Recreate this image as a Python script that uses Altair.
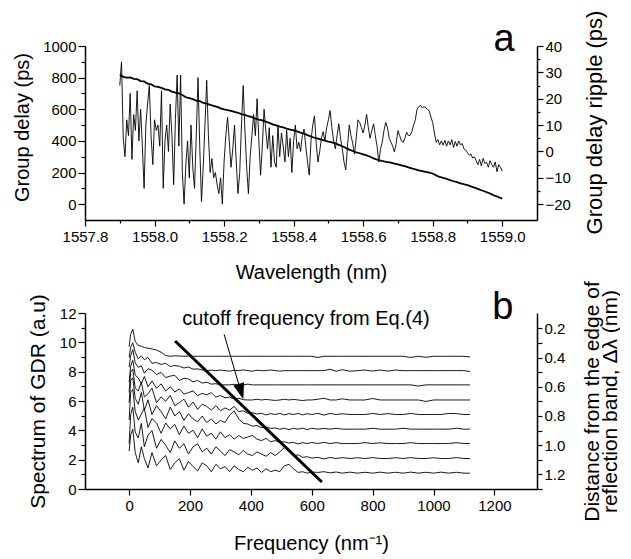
import altair as alt
import pandas as pd

FONT = "Liberation Sans"

# ---------------- panel a ----------------
# group delay sampled every 0.01 nm from 1557.90 to 1559.00
gd_start, gd_step = 1557.90, 0.01
gd_delay = [
    820, 805, 800, 802, 792, 790, 778, 776, 762, 758,
    745, 742, 735, 726, 722, 712, 705, 700, 690, 676,
    670, 664, 655, 652, 640, 635, 628, 622, 615, 606,
    600, 595, 590, 583, 578, 570, 565, 556, 550, 541,
    535, 530, 522, 514, 505, 498, 490, 485, 478, 472,
    466, 460, 452, 446, 437, 428, 420, 414, 408, 402,
    395, 390, 384, 375, 366, 356, 345, 336, 328, 322,
    315, 308, 300, 290, 282, 276, 270, 266, 262, 256,
    252, 246, 240, 233, 226, 220, 214, 209, 204, 199,
    194, 182, 172, 166, 160, 152, 145, 139, 132, 126,
    120, 112, 105, 97, 88, 80, 72, 62, 52, 44,
    35,
]
# group delay ripple sampled every 0.005 nm from 1557.900 to 1559.000
rip_start, rip_step = 1557.900, 0.005
ripple = [
    25, 34, 5, -2, 12, 6, 22, -3, 14, 8,
    23, 4, 16, 2, -14, 10, 18, 25, 6, -5,
    12, 8, 10, 2, 23, -14, 4, 10, 0, 18,
    6, -12.6, 12, 29, 2, 29, -8, -20, -5, 4,
    -10, 10, -6, -14, 6, 28, 2, -19, -6, 10,
    27, 6, -8, -2.7, -10, -8, -12.6, -16, -10, -20,
    -4, 6, 13, 4, -6, 1, 10, -4, -16, -8,
    10, 25, 8, -6, -16, -2, 6, 14, 6, 20,
    4, -9, 2, 16, 8, 1, 9, -6, 6, -4,
    -6, 10, -2, 7, 2, -4, 8, -2, 5, -8,
    4, 10, 1, 3.5, 0, 6, 8.5, 2, -4, -9,
    4, 10, 13.5, 3, -4, 0, 5, 7.5, 4, 9,
    12, 15.5, 9, 4, 1, 6, 10.5, 5, 1, -4,
    -7, 2, 10, 6, 3, -1, 5, 12, 11, 9,
    7, 10, 14, 9, 5, 8, 10.5, 6, 2, -4,
    1, 3.5, 8, 11, 9, 5, 3.5, 2, -0.2, 3,
    7.9, 6, 4, 3.5, 5, 7.3, 6, 6.1, 7.5, 10,
    12, 16, 17, 17.4, 16.5, 17, 16.6, 16, 15.4, 13,
    11, 7, 3.5, 4.5, 2.5, 4, 2.4, 4.2, 2, 4,
    2.5, 4.5, 1.5, 3.8, 2, 4, 2.5, 3, 1, 0.5,
    -0.5, -1.4, -1, -2.5, -2, -3.5, -5, -3, -5.5, -2.6,
    -4.5, -4.2, -6, -3.5, -5, -6, -4, -7.7, -5, -6,
    -7.5,
]
wl_ticks = [1557.8, 1557.9, 1558.0, 1558.1, 1558.2, 1558.3, 1558.4,
            1558.5, 1558.6, 1558.7, 1558.8, 1558.9, 1559.0]
gd_ticks = [0, 100, 200, 300, 400, 500, 600, 700, 800, 900, 1000]
rip_ticks = [-20, -15, -10, -5, 0, 5, 10, 15, 20, 25, 30, 35, 40]

# ---------------- panel b ----------------
freq = [0, 5, 12, 20, 30, 40, 50, 62, 75, 90,
        105, 120, 135, 150, 165, 180, 195, 210, 225, 240,
        255, 270, 285, 300, 315, 330, 345, 360, 375, 390,
        405, 420, 435, 450, 465, 480, 495, 510, 525, 540,
        555, 570, 585, 600, 620, 640, 660, 680, 700, 725,
        750, 775, 800, 825, 850, 875, 900, 925, 950, 975,
        1000, 1025, 1050, 1075, 1100, 1120]
curve_offset = [9.05, 8.07, 7.1, 6.07, 5.08, 4.08, 3.1, 2.08, 1.08]
spectra = [
    [0.65, 1.5, 1.85, 1.0, 0.75, 0.68, 0.6, 0.55, 0.5, 0.42,
     0.28, 0.05, 0.0, 0.03, 0.02, 0.0, 0.02, 0.0, 0.0, 0.0,
     0.0, 0.0, 0.0, 0.0, 0.0, 0.0, 0.0, 0.0, 0.0, 0.0,
     0.0, 0.0, 0.0, 0.0, 0.0, 0.0, 0.0, 0.0, 0.0, 0.0,
     0.0, 0.0, 0.0, 0.0, -0.08, 0.0, 0.0, 0.0, 0.0, 0.0,
     0.0, 0.0, 0.0, 0.0, 0.0, 0.0, 0.0, -0.08, 0.0, -0.07,
     0.0, 0.0, 0.0, 0.0, 0.0, -0.05],
    [0.9, 1.6, 1.9, 1.25, 0.8, 1.0, 0.75, 0.9, 0.5, 0.55,
     0.42, 0.5, 0.28, 0.35, 0.3, 0.18, 0.25, 0.1, 0.12, 0.05,
     0.0, 0.03, 0.0, 0.04, 0.0, -0.04, 0.03, 0.0, 0.05, 0.0,
     -0.04, 0.03, 0.0, 0.0, 0.05, 0.0, -0.03, 0.0, 0.0, 0.0,
     0.0, 0.0, 0.0, 0.0, 0.0, 0.0, 0.1, -0.04, 0.07, -0.04,
     0.0, 0.04, -0.03, 0.04, -0.03, 0.04, 0.0, 0.0, 0.0, 0.0,
     0.0, 0.0, 0.0, 0.0, 0.0, -0.06],
    [1.2, 2.0, 2.4, 1.5, 1.2, 1.3, 0.8, 1.1, 1.0, 0.7,
     0.85, 0.5, 0.6, 0.65, 0.3, 0.45, 0.4, 0.2, 0.3, 0.12,
     0.18, 0.05, 0.08, 0.0, 0.0, 0.0, 0.04, -0.03, 0.0, 0.05,
     0.0, 0.0, 0.0, 0.0, 0.0, 0.0, 0.0, 0.0, 0.0, 0.0,
     0.0, 0.0, 0.0, 0.0, 0.0, 0.0, 0.0, 0.0, 0.0, 0.0,
     0.0, 0.0, 0.0, 0.0, 0.0, 0.0, 0.0, 0.0, -0.08, 0.0,
     0.0, 0.0, 0.0, 0.0, 0.0, 0.0],
    [1.2, 2.3, 2.7, 1.7, 1.5, 1.1, 1.6, 0.9, 1.3, 0.8,
     1.1, 0.6, 0.9, 0.55, 0.75, 0.4, 0.5, 0.62, 0.3, 0.45,
     0.35, 0.5, 0.2, 0.3, 0.15, 0.2, 0.06, 0.12, 0.02, 0.0,
     0.0, 0.05, 0.0, 0.04, 0.0, -0.03, 0.0, 0.05, 0.0, 0.04,
     0.0, -0.04, 0.0, 0.0, 0.05, 0.12, 0.0, 0.0, 0.08, 0.0,
     0.0, 0.0, 0.1, 0.0, 0.0, 0.0, 0.0, 0.0, 0.0, -0.1,
     0.0, 0.0, 0.0, 0.0, 0.0, 0.0],
    [1.5, 2.9, 3.1, 1.8, 1.6, 2.2, 1.2, 1.4, 1.8, 0.8,
     1.2, 0.9, 1.3, 0.6, 0.8, 1.05, 0.5, 0.85, 0.35, 0.7,
     0.55, 0.3, 0.6, 0.25, 0.45, 0.3, 0.55, 0.2, 0.25, 0.08,
     0.12, 0.03, 0.08, -0.03, 0.06, 0.0, 0.07, -0.03, 0.06, 0.0,
     0.07, -0.03, 0.06, 0.0, 0.08, -0.04, 0.07, 0.0, 0.05, 0.0,
     0.0, 0.0, 0.07, 0.0, 0.06, 0.0, 0.0, 0.07, 0.0, 0.0,
     0.0, 0.0, 0.07, 0.06, 0.0, 0.0],
    [1.8, 3.3, 3.5, 2.1, 1.7, 2.5, 1.3, 2.0, 1.0, 1.6,
     1.2, 0.7, 1.5, 0.9, 1.2, 0.6, 1.05, 0.7, 0.5, 0.9,
     0.45, 0.7, 0.35, 0.6, 0.45, 0.95, 1.25, 0.7, 0.4, 0.35,
     0.2, 0.25, 0.1, 0.15, 0.05, 0.08, 0.0, 0.06, -0.03, 0.06,
     0.0, 0.07, -0.03, 0.06, 0.0, 0.05, 0.0, 0.06, 0.0, 0.0,
     0.0, 0.0, 0.06, 0.0, 0.0, 0.0, 0.06, 0.0, 0.0, 0.0,
     0.0, 0.0, 0.0, 0.06, 0.0, 0.0],
    [1.6, 3.5, 3.7, 2.2, 1.6, 2.0, 2.4, 1.1, 1.7, 1.4,
     0.7, 1.4, 1.0, 1.3, 0.6, 1.2, 0.7, 0.9, 0.4, 1.0,
     0.5, 0.7, 0.3, 0.8, 0.4, 0.6, 0.3, 0.55, 0.35, 0.45,
     0.55, 0.3, 0.2, 0.35, 0.12, 0.2, 0.08, 0.12, 0.03, 0.08,
     -0.03, 0.06, 0.0, 0.07, 0.0, 0.08, 0.0, 0.06, 0.0, 0.0,
     0.0, 0.06, 0.0, 0.05, 0.0, 0.0, 0.0, 0.06, 0.0, 0.0,
     0.0, 0.0, 0.0, 0.06, 0.0, 0.0],
    [1.0, 3.0, 3.5, 1.8, 1.4, 2.4, 0.8, 1.6, 1.9, 0.7,
     1.3, 0.9, 0.4, 1.2, 0.7, 1.0, 0.3, 0.8, 1.0, 0.45,
     0.7, 0.3, 0.8, 0.5, 0.2, 0.6, 0.45, 0.25, 0.55, 0.3,
     0.2, 0.45, 0.3, 0.15, 0.4, 0.2, 0.45, 0.75, 0.5, 0.2,
     0.25, 0.08, 0.12, 0.03, 0.08, -0.03, 0.07, 0.0, 0.06, 0.0,
     0.05, 0.0, 0.06, 0.0, 0.0, 0.05, 0.0, 0.06, 0.0, 0.0,
     0.05, 0.0, 0.0, 0.06, 0.0, 0.0],
    [1.5, 2.6, 3.0, 1.4, 0.7, 1.8, 1.0, 0.35, 1.4, 0.5,
     0.9, 1.2, 0.25, 0.7, 1.0, 0.2, 0.8, 0.45, 0.15, 0.7,
     0.5, 0.1, 0.6, 0.3, 0.45, 0.1, 0.5, 0.25, 0.1, 0.4,
     0.2, 0.35, 0.05, 0.3, 0.1, 0.2, 0.1, 0.5, 0.6, 0.3,
     0.05, 0.1, 0.0, 0.08, 0.05, 0.1, 0.02, 0.08, 0.0, 0.07,
     0.0, 0.06, 0.0, 0.07, 0.0, 0.06, 0.0, 0.07, 0.0, 0.06,
     0.0, 0.07, 0.0, 0.06, 0.0, 0.0],
]
cutoff_f = [151, 633]
cutoff_v = [10.09, 0.48]
arrow_f = [312, 372]
arrow_v = [10.55, 6.3]
arrowhead_f = [367.5]
arrowhead_v = [6.64]
freq_ticks = [0, 200, 400, 600, 800, 1000, 1200]
gdr_ticks = [0, 1, 2, 3, 4, 5, 6, 7, 8, 9, 10, 11, 12]
dist_ticks = [0.2, 0.3, 0.4, 0.5, 0.6, 0.7, 0.8, 0.9, 1.0, 1.1, 1.2, 1.3]

# ---------------- tables ----------------
df_gd = pd.DataFrame({"wl": [round(gd_start + gd_step * i, 3) for i in range(len(gd_delay))],
                      "gd": gd_delay})
df_rip = pd.DataFrame({"wl": [round(rip_start + rip_step * i, 3) for i in range(len(ripple))],
                       "rip": ripple})
rows = []
for k, (off, spec) in enumerate(zip(curve_offset, spectra)):
    for f, s in zip(freq, spec):
        rows.append({"f": f, "v": off + s, "curve": k})
df_spec = pd.DataFrame(rows)
df_cut = pd.DataFrame({"f": cutoff_f, "v": cutoff_v})
df_arrow = pd.DataFrame({"f": arrow_f, "v": arrow_v})
df_head = pd.DataFrame({"f": arrowhead_f, "v": arrowhead_v})
df_dist = pd.DataFrame({"d": dist_ticks})

W = 452

# ---------------- panel a chart ----------------
xa_scale = alt.Scale(domain=[1557.8, 1559.1], nice=False, zero=False)
ya_scale = alt.Scale(domain=[-100, 1000], nice=False, zero=False)
yr_scale = alt.Scale(domain=[-26, 40], nice=False, zero=False)

xa_axis = alt.Axis(title="Wavelength (nm)", values=wl_ticks,
                   labelExpr="round(datum.value*10) % 2 == 0 ? format(datum.value, '.1f') : ''",
                   tickSize={"condition": {"test": "round(datum.value*10) % 2 == 0", "value": 6}, "value": 3},
                   labelFlush=False, labelOverlap=False, labelPadding=3, titlePadding=18)
ya_axis = alt.Axis(title="Group delay (ps)", values=gd_ticks, format="d",
                   labelExpr="datum.value % 200 == 0 ? datum.label : ''",
                   tickSize={"condition": {"test": "datum.value % 200 == 0", "value": 7}, "value": 4},
                   labelOverlap=False, titleX=-53, titleY=81)
yr_axis = alt.Axis(title="Group delay ripple (ps)", orient="right", values=rip_ticks,
                   labelExpr="datum.value % 10 == 0 ? datum.label : ''",
                   tickSize={"condition": {"test": "datum.value % 10 == 0", "value": 6}, "value": 3},
                   labelOverlap=False, titleAngle=270, titleBaseline="top",
                   titleX=47, titleY=76, titleFontSize=22)

gd_line = alt.Chart(df_gd).mark_line(color="black", strokeWidth=1.8).encode(
    x=alt.X("wl:Q", scale=xa_scale, axis=xa_axis),
    y=alt.Y("gd:Q", scale=ya_scale, axis=ya_axis),
)
txt_a = alt.Chart().mark_text(text="a", font=FONT, fontSize=38, color="black",
                              baseline="alphabetic", align="center").encode(
    x=alt.datum(1559.005, scale=xa_scale, axis=xa_axis),
    y=alt.datum(968, scale=ya_scale, axis=ya_axis),
)
rip_line = alt.Chart(df_rip).mark_line(color="black", strokeWidth=0.9).encode(
    x=alt.X("wl:Q", scale=xa_scale, axis=xa_axis),
    y=alt.Y("rip:Q", scale=yr_scale, axis=yr_axis),
)
panel_a = alt.layer(alt.layer(gd_line, txt_a), rip_line).resolve_scale(
    y="independent").properties(width=W, height=174)

# ---------------- panel b chart ----------------
xb_scale = alt.Scale(domain=[-145, 1340], nice=False, zero=False)
yb_scale = alt.Scale(domain=[0, 12], nice=False, zero=False)
yd_scale = alt.Scale(domain=[0.095, 1.3], reverse=True, nice=False, zero=False)

xb_axis = alt.Axis(title="Frequency (nm⁻¹)", values=freq_ticks, format="d", labelFlush=False,
                   labelOverlap=False, labelPadding=3, titlePadding=20, tickSize=6)
yb_axis = alt.Axis(title="Spectrum of GDR (a.u)", values=gdr_ticks,
                   labelExpr="datum.value % 2 == 0 ? datum.label : ''",
                   tickSize={"condition": {"test": "datum.value % 2 == 0", "value": 7}, "value": 4},
                   labelOverlap=False, titleX=-37, titleFontSize=21)
yd_axis = alt.Axis(title=["Distance from the edge of", "reflection band, Δλ  (nm)"],
                   orient="right", values=dist_ticks,
                   labelExpr="(round(datum.value*10) % 2 == 0 && datum.value < 1.25) ? format(datum.value, '.1f') : ''",
                   labelOverlap=False, titleAngle=270, titleBaseline="top",
                   titleX=44, titleFontSize=21, titleLineHeight=18)


def enc_b(chart):
    return chart.encode(
        x=alt.X("f:Q", scale=xb_scale, axis=xb_axis),
        y=alt.Y("v:Q", scale=yb_scale, axis=yb_axis),
    )


spec_lines = enc_b(alt.Chart(df_spec).mark_line(color="black", strokeWidth=0.9)).encode(
    detail="curve:N")
cut_line = enc_b(alt.Chart(df_cut).mark_line(color="black", strokeWidth=3))
arrow_line = enc_b(alt.Chart(df_arrow).mark_line(color="black", strokeWidth=1))
arrow_head = enc_b(alt.Chart(df_head).mark_point(
    shape="M0,-1L0.7,1L-0.7,1Z", filled=True, size=256, angle=163.5,
    color="black", opacity=1, strokeWidth=0))
txt_cut = alt.Chart().mark_text(text="cutoff frequency from Eq.(4)", font=FONT, fontSize=20,
                                color="black", baseline="middle", align="center").encode(
    x=alt.datum(581, scale=xb_scale, axis=xb_axis),
    y=alt.datum(11.6, scale=yb_scale, axis=yb_axis),
)
txt_b = alt.Chart().mark_text(text="b", font=FONT, fontSize=38, color="black",
                              baseline="alphabetic", align="center").encode(
    x=alt.datum(1228, scale=xb_scale, axis=xb_axis),
    y=alt.datum(11.6, scale=yb_scale, axis=yb_axis),
)
dist_axis = alt.Chart(df_dist).mark_point(opacity=0).encode(
    x=alt.datum(500, scale=xb_scale, axis=xb_axis),
    y=alt.Y("d:Q", scale=yd_scale, axis=yd_axis),
)
panel_b = alt.layer(
    alt.layer(spec_lines, cut_line, arrow_line, arrow_head, txt_cut, txt_b),
    dist_axis,
).resolve_scale(y="independent").properties(width=W, height=176)

chart = alt.vconcat(panel_a, panel_b, spacing=93, bounds="flush").properties(
    padding={"left": 4, "top": 2, "right": 0, "bottom": 2}
).configure_axis(
    labelFont=FONT, titleFont=FONT, labelFontSize=15, titleFontSize=20,
    titleFontWeight="normal", labelColor="black", titleColor="black",
    domainColor="black", tickColor="black", grid=False, tickSize=5,
    domainWidth=1.5, tickWidth=1.2,
).configure_view(stroke=None)

chart.save("out.html", embed_options={"renderer": "svg", "actions": False})
